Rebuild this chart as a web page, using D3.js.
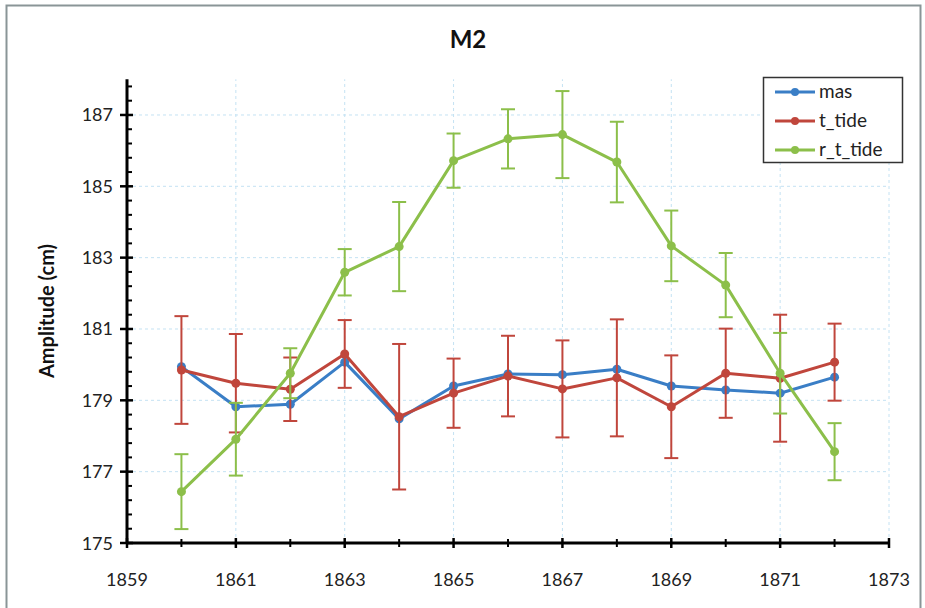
<!DOCTYPE html>
<html><head><meta charset="utf-8">
<script src="https://cdn.jsdelivr.net/npm/d3@7"></script>
<style>body{margin:0;background:#fff}svg{display:block;font-family:Lato,"Open Sans",sans-serif}</style>
</head><body><svg id="c" width="925" height="608"></svg>
<script>
const years = [1860,1861,1862,1863,1864,1865,1866,1867,1868,1869,1870,1871,1872];
const mas = [179.94,178.82,178.89,180.07,178.48,179.40,179.74,179.72,179.87,179.40,179.29,179.20,179.65];
const tTide = [179.85,179.48,179.31,180.30,178.54,179.20,179.68,179.32,179.63,178.82,179.76,179.62,180.07];
const tTideErr = [1.51,1.38,0.89,0.95,2.04,0.97,1.13,1.36,1.64,1.44,1.25,1.78,1.08];
const rtTide = [176.44,177.91,179.76,182.59,183.31,185.72,186.33,186.45,185.68,183.33,182.23,179.76,177.56];
const rtTideErr = [1.05,1.02,0.70,0.65,1.25,0.76,0.83,1.22,1.13,0.99,0.90,1.13,0.80];
const xTicks = [1859,1861,1863,1865,1867,1869,1871,1873];
const yTicks = [175,177,179,181,183,185,187];
const seriesNames = ["mas","t_tide","r_t_tide"];
const colors = ["#3a7ec6","#c0463c","#8cbf4a"];

const svg = d3.select("#c");
const x = d3.scaleLinear().domain([1859,1873]).range([127,889]);
const y = d3.scaleLinear().domain([175,188]).range([543,79.3]);

// chart border
svg.append("rect").attr("x",6.5).attr("y",5.5).attr("width",914).attr("height",608).attr("fill","none").attr("stroke","#8a9597").attr("stroke-width",2);

// gridlines
const grid = svg.append("g").attr("stroke","#c4e2f3").attr("stroke-dasharray","3,3").attr("stroke-width",1);
yTicks.filter(v=>v>175).forEach(v=>grid.append("line").attr("x1",x(1859)).attr("x2",x(1873)).attr("y1",y(v)).attr("y2",y(v)));
xTicks.filter(v=>v>1859).forEach(v=>grid.append("line").attr("x1",x(v)).attr("x2",x(v)).attr("y1",y(175)).attr("y2",y(188)));

// axes
const ax = svg.append("g").attr("stroke","#000");
ax.append("line").attr("x1",x(1859)).attr("x2",x(1873)).attr("y1",y(175)).attr("y2",y(175)).attr("stroke-width",3);
ax.append("line").attr("x1",x(1859)).attr("x2",x(1859)).attr("y1",y(175)+1).attr("y2",y(188)).attr("stroke-width",3);
d3.range(1859,1874,1).forEach(v=>{
  const maj = (v-1859)%2===0;
  ax.append("line").attr("x1",x(v)).attr("x2",x(v)).attr("y1",y(175)-(maj?5:4)).attr("y2",y(175)+(maj?5:4)).attr("stroke-width",maj?2.5:2);
});
d3.range(0,33).forEach(i=>{
  const v = 175+i*0.4;
  const maj = i%5===0;
  ax.append("line").attr("y1",y(v)).attr("y2",y(v)).attr("x1",x(1859)-(maj?7:0)).attr("x2",x(1859)+(maj?6:5)).attr("stroke-width",maj?2.5:2);
});

// tick labels
svg.append("g").selectAll("text").data(xTicks).join("text")
  .attr("x",d=>x(d)).attr("y",586).attr("text-anchor","middle").attr("font-size",18).attr("fill","#222").text(d=>d);
svg.append("g").selectAll("text").data(yTicks).join("text")
  .attr("x",113).attr("y",d=>y(d)+6.5).attr("text-anchor","end").attr("font-size",18).attr("fill","#222").text(d=>d);

// title & axis label
svg.append("text").attr("x",468).attr("y",48).attr("text-anchor","middle").attr("font-size",24).attr("font-weight","bold").attr("fill","#111").text("M2");
svg.append("text").attr("transform","translate(54,311) rotate(-90)").attr("text-anchor","middle").attr("font-size",20).attr("font-weight","bold").attr("fill","#111").text("Amplitude (cm)");

// series
const line = d3.line().x(d=>x(d[0])).y(d=>y(d[1]));
const series = [
  {vals:mas, err:null},
  {vals:tTide, err:tTideErr},
  {vals:rtTide, err:rtTideErr}
];
series.forEach((s,i)=>{
  const g = svg.append("g");
  const c = colors[i];
  const pts = years.map((yr,j)=>[yr,s.vals[j]]);
  if(s.err){
    years.forEach((yr,j)=>{
      const lo = y(s.vals[j]-s.err[j]), hi = y(s.vals[j]+s.err[j]);
      g.append("line").attr("x1",x(yr)).attr("x2",x(yr)).attr("y1",lo).attr("y2",hi).attr("stroke",c).attr("stroke-width",2);
      [lo,hi].forEach(yy=>g.append("line").attr("x1",x(yr)-7).attr("x2",x(yr)+7).attr("y1",yy).attr("y2",yy).attr("stroke",c).attr("stroke-width",2));
    });
  }
  g.append("path").datum(pts).attr("d",line).attr("fill","none").attr("stroke",c).attr("stroke-width",3).attr("stroke-linejoin","round");
  g.selectAll("circle").data(pts).join("circle").attr("cx",d=>x(d[0])).attr("cy",d=>y(d[1])).attr("r",4.5).attr("fill",c);
});

// legend
const lg = svg.append("g");
lg.append("rect").attr("x",763.5).attr("y",77.5).attr("width",139).attr("height",85).attr("fill","#fff").attr("stroke","#333").attr("stroke-width",1.5);
seriesNames.forEach((n,i)=>{
  const yy = 92 + i*29;
  lg.append("line").attr("x1",775).attr("x2",815).attr("y1",yy).attr("y2",yy).attr("stroke",colors[i]).attr("stroke-width",3);
  lg.append("circle").attr("cx",795).attr("cy",yy).attr("r",4).attr("fill",colors[i]);
  lg.append("text").attr("x",819).attr("y",yy+6).attr("font-size",19).attr("fill","#222").text(n);
});
</script></body></html>
